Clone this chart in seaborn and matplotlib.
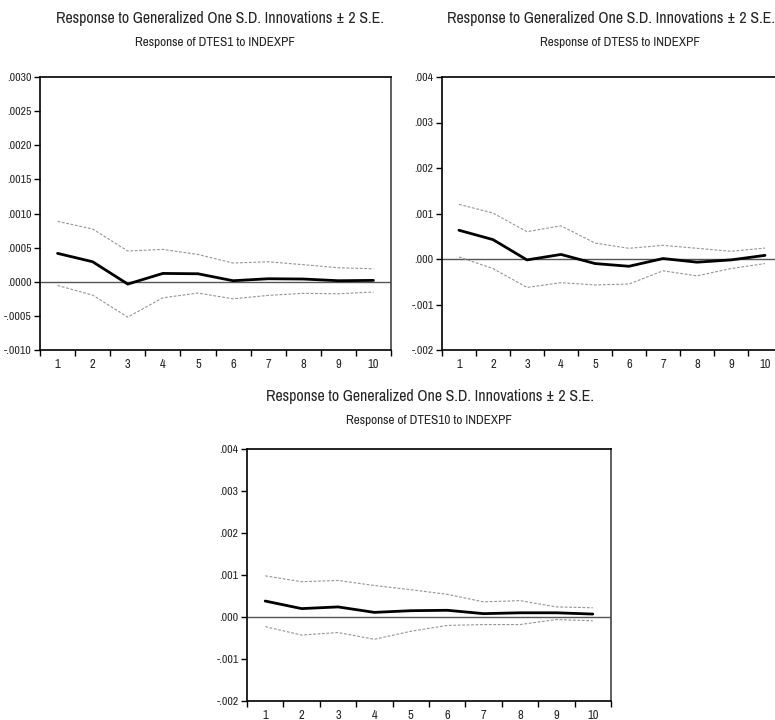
import matplotlib
matplotlib.use("Agg")
import matplotlib.pyplot as plt
import seaborn as sns
import pandas as pd
from matplotlib.ticker import FixedLocator, FixedFormatter

periods = list(range(1, 11))

resp1 = [0.000416, 0.000293, -0.000034, 0.000122, 0.000117, 0.000015, 0.000044, 0.000040, 0.000015, 0.000020]
upper1 = [0.000885, 0.000773, 0.000450, 0.000474, 0.000400, 0.000274, 0.000293, 0.000250, 0.000205, 0.000190]
lower1 = [-0.000054, -0.000196, -0.000518, -0.000235, -0.000166, -0.000250, -0.000200, -0.000170, -0.000176, -0.000150]

resp5 = [0.000632, 0.000426, -0.000020, 0.000100, -0.000100, -0.000160, 0.000010, -0.000070, -0.000020, 0.000080]
upper5 = [0.001200, 0.001010, 0.000600, 0.000730, 0.000350, 0.000235, 0.000300, 0.000235, 0.000170, 0.000240]
lower5 = [0.000044, -0.000210, -0.000625, -0.000520, -0.000570, -0.000550, -0.000260, -0.000370, -0.000210, -0.000100]

resp10 = [0.000380, 0.000200, 0.000240, 0.000110, 0.000150, 0.000160, 0.000080, 0.000100, 0.000100, 0.000070]
upper10 = [0.000980, 0.000840, 0.000870, 0.000750, 0.000650, 0.000540, 0.000360, 0.000390, 0.000240, 0.000220]
lower10 = [-0.000230, -0.000430, -0.000370, -0.000530, -0.000340, -0.000200, -0.000180, -0.000180, -0.000060, -0.000090]

yticks1 = [-0.0010, -0.0005, 0.0, 0.0005, 0.0010, 0.0015, 0.0020, 0.0025, 0.0030]
ylabels1 = ["-.0010", "-.0005", ".0000", ".0005", ".0010", ".0015", ".0020", ".0025", ".0030"]
yticks2 = [-0.002, -0.001, 0.0, 0.001, 0.002, 0.003, 0.004]
ylabels2 = ["-.002", "-.001", ".000", ".001", ".002", ".003", ".004"]

main_title = "Response to Generalized One S.D. Innovations \u00b1 2 S.E."
sub1 = "Response of DTES1 to INDEXPF"
sub5 = "Response of DTES5 to INDEXPF"
sub10 = "Response of DTES10 to INDEXPF"

sns.set_style("white")
plt.rcParams['font.family'] = ['Liberation Sans Narrow', 'Archivo Narrow', 'Liberation Sans', 'DejaVu Sans']

fig = plt.figure(figsize=(7.75, 7.2), dpi=100)

def panel(rect, resp, up, lo, yt, yl):
    ax = fig.add_axes(rect)
    df = pd.DataFrame({"period": periods, "resp": resp, "up": up, "lo": lo})
    ax.axhline(0, color="#555555", lw=1.0, zorder=1)
    sns.lineplot(data=df, x="period", y="up", ax=ax, color="#959595", lw=0.8,
                 linestyle=(0, (2.5, 1.5)), zorder=2)
    sns.lineplot(data=df, x="period", y="lo", ax=ax, color="#959595", lw=0.8,
                 linestyle=(0, (2.5, 1.5)), zorder=2)
    sns.lineplot(data=df, x="period", y="resp", ax=ax, color="black", lw=2.0, zorder=3)
    ax.set_xlim(0.5, 10.5)
    ax.set_ylim(yt[0], yt[-1])
    ax.xaxis.set_major_locator(FixedLocator([p - 0.5 for p in periods] + [10.5]))
    ax.xaxis.set_major_formatter(FixedFormatter([""] * 11))
    ax.xaxis.set_minor_locator(FixedLocator(periods))
    ax.xaxis.set_minor_formatter(FixedFormatter([str(p) for p in periods]))
    ax.yaxis.set_major_locator(FixedLocator(yt))
    ax.yaxis.set_major_formatter(FixedFormatter(yl))
    ax.tick_params(axis="x", which="major", direction="out", length=4, width=1, color="black")
    ax.tick_params(axis="x", which="minor", length=0, labelsize=9, pad=6.5)
    ax.tick_params(axis="y", which="major", direction="out", length=4, width=1,
                   color="black", labelsize=8.5, pad=2)
    ax.tick_params(bottom=True, left=True)
    for s in ax.spines.values():
        s.set_color("black")
        s.set_linewidth(1.2)
    ax.spines["right"].set_color("#444444")
    ax.set_xlabel("")
    ax.set_ylabel("")
    return ax

panel([40/775, 1 - 350/720, 351/775, 273/720], resp1, upper1, lower1, yticks1, ylabels1)
panel([442/775, 1 - 350/720, 340/775, 273/720], resp5, upper5, lower5, yticks2, ylabels2)
panel([247/775, 1 - 701/720, 364/775, 252/720], resp10, upper10, lower10, yticks2, ylabels2)

fig.text(220/775, 1 - 18/720, main_title, ha="center", va="center", fontsize=11.5)
fig.text(215/775, 1 - 43/720, sub1, ha="center", va="center", fontsize=9.5)
fig.text(611/775, 1 - 18/720, main_title, ha="center", va="center", fontsize=11.5)
fig.text(620/775, 1 - 43/720, sub5, ha="center", va="center", fontsize=9.5)
fig.text(430/775, 1 - 396/720, main_title, ha="center", va="center", fontsize=11.5)
fig.text(429/775, 1 - 421/720, sub10, ha="center", va="center", fontsize=9.5)

fig.savefig("out.png", dpi=100)
